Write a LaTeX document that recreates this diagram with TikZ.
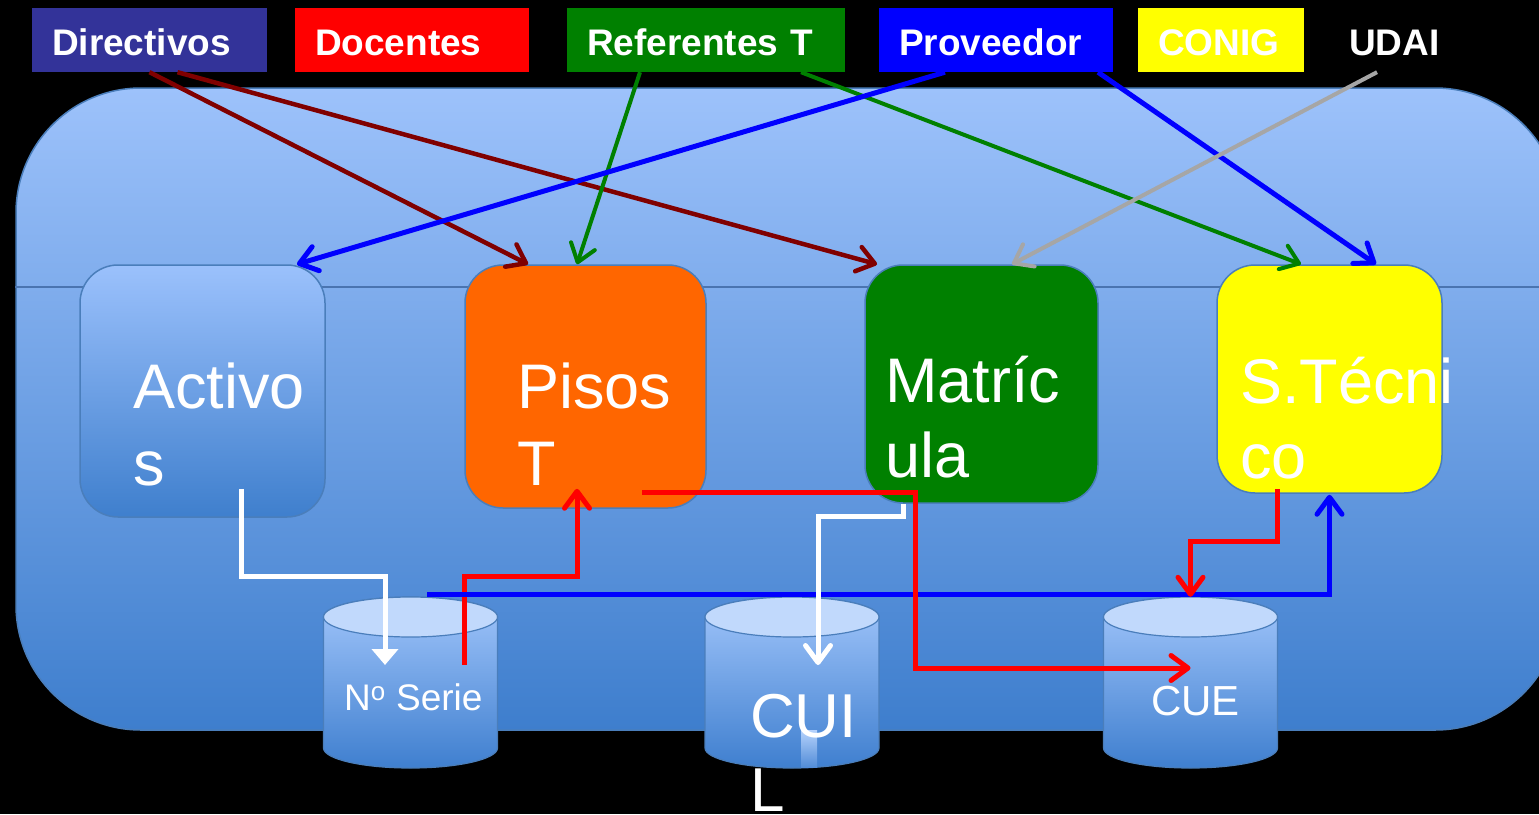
\documentclass[tikz,border=0pt]{standalone}
\usepackage{fontspec}
\setmainfont{Liberation Sans}
\usetikzlibrary{arrows.meta}
\definecolor{dirblue}{HTML}{333399}
\definecolor{docred}{HTML}{FF0000}
\definecolor{refgreen}{HTML}{008000}
\definecolor{provblue}{HTML}{0000FF}
\definecolor{conigyellow}{HTML}{FFFF00}
\definecolor{pisorange}{HTML}{FF6600}
\definecolor{edgeblue}{HTML}{4A7EBB}
\definecolor{linedark}{HTML}{4A74B0}
\definecolor{paneltop}{HTML}{9DC2FB}
\definecolor{panelmid}{HTML}{77A4E7}
\definecolor{panelbot}{HTML}{3E7ECD}
\definecolor{actop}{HTML}{9BC1FC}
\definecolor{acbot}{HTML}{3F7FCD}
\definecolor{cyltop}{HTML}{A2C6FB}
\definecolor{cylbot}{HTML}{3F7FCF}
\definecolor{cylcap}{HTML}{C1D9FC}
\definecolor{darkred}{HTML}{800000}
\definecolor{udaigray}{HTML}{A6A6A6}
\tikzset{dbcyl/.pic={
  \shade[top color=cyltop, bottom color=cylbot, draw=edgeblue, line width=1.2pt]
    (-87,0) -- (-87,131) arc[start angle=180, end angle=0, x radius=87, y radius=20]
    -- (87,0) arc[start angle=0, end angle=-180, x radius=87, y radius=20] -- cycle;
  \filldraw[fill=cylcap, draw=edgeblue, line width=1.2pt] (0,0) ellipse[x radius=87, y radius=20];
}}
\begin{document}
\begin{tikzpicture}[x=1pt,y=-1pt,
  toplabel/.style={rectangle, inner xsep=20pt, inner ysep=0pt, minimum height=64pt,
    text height=30pt, text depth=0pt, align=left, text=white,
    font=\bfseries\fontsize{37}{44}\selectfont},
  box/.style={rectangle, rounded corners=38pt, draw=edgeblue, line width=1.5pt, inner sep=0pt},
  boxtext/.style={anchor=base west, inner sep=0pt, text=white, font=\fontsize{63}{75}\selectfont},
  cylnode/.style={rectangle, inner sep=0pt, minimum width=174pt, minimum height=171pt},
  cyltext/.style={anchor=base west, inner sep=0pt, text=white},
  barb/.style={-{Straight Barb[length=17pt,width=25pt,round]}},
  link/.style={barb, line width=4.5pt},
  wire/.style={line width=5pt, line join=miter},
]
\useasboundingbox (0,0) rectangle (1539,814);
\fill[black] (0,0) rectangle (1539,814);

% container
\node[rectangle, rounded corners=125pt, draw=edgeblue, line width=1.5pt,
  top color=paneltop, middle color=panelmid, bottom color=panelbot,
  minimum width=1544pt, minimum height=642pt] (panel) at (788,409) {};
\coordinate (lineY) at (0,287);
\draw[linedark, line width=1.3pt] (panel.west |- lineY) -- (panel.east |- lineY);

% top labels
\node[toplabel, fill=dirblue, text width=195pt] (dir) at (149.5,40) {Directivos};
\node[toplabel, fill=docred, text width=194pt] (doc) at (412,40) {Docentes};
\node[toplabel, fill=refgreen, text width=238pt] (ref) at (706,40) {Referentes T};
\node[toplabel, fill=provblue, text width=194pt] (prov) at (996,40) {Proveedor};
\node[toplabel, fill=conigyellow, text width=126pt] (conig) at (1221,40) {CONIG};
\node[toplabel, text width=89pt] (udai) at (1393.5,40) {UDAI};

% inner boxes
\node[box, top color=actop, bottom color=acbot, minimum width=245pt, minimum height=252pt] (activos) at (202.5,391) {};
\node[box, fill=pisorange, minimum width=241pt, minimum height=243pt] (pisos) at (585.5,386.5) {};
\node[box, fill=refgreen, minimum width=233pt, minimum height=238pt] (matr) at (981.5,384) {};
\node[box, fill=conigyellow, minimum width=225pt, minimum height=228pt] (stec) at (1329.5,379) {};

% cylinders
\pic at (410.5,617) {dbcyl};
\pic at (792,617) {dbcyl};
\pic at (1190.5,617) {dbcyl};
\node[cylnode] (serie) at (410.5,682.5) {};
\node[cylnode] (cui) at (792,682.5) {};
\node[cylnode] (cue) at (1190.5,682.5) {};
\shade[top color=cyltop!80!white, bottom color=cylbot!80!cyltop] (801,730) rectangle (817,767);

% box texts
\node[boxtext] (activos-a) at (133,408) {Activo};
\node[boxtext] (activos-b) at (133,485) {s};
\node[boxtext] (pisos-a) at (517,408) {Pisos};
\node[boxtext] (pisos-b) at (517,485) {T};
\node[boxtext] (matr-a) at (885,402) {Matríc};
\node[boxtext] (matr-b) at (885,477) {ula};
\node[boxtext] (stec-a) at (1240,403) {S.Técni};
\node[boxtext] (stec-b) at (1240,478) {co};

% cylinder texts
\node[cyltext, font=\fontsize{37}{44}\selectfont] (serie-t) at (344,710) {N\textsuperscript{o} Serie};
\node[cyltext, font=\fontsize{62}{75}\selectfont] (cui-a) at (750,737) {CUI};
\node[cyltext, font=\fontsize{62}{75}\selectfont] (cui-b) at (750,811) {L};
\node[cyltext, font=\fontsize{42}{50}\selectfont] (cue-t) at (1151,715) {CUE};

% top arrows
\draw[link, darkred] ([xshift=0pt]dir.south) -- ([xshift=-57.5pt]pisos.north);
\draw[link, darkred] ([xshift=28pt]dir.south) -- ([xshift=-104.5pt]matr.north);
\draw[link, refgreen, line width=4pt] ([xshift=-66pt]ref.south) -- ([xshift=-8.5pt]pisos.north);
\draw[link, refgreen, line width=4pt] ([xshift=95pt]ref.south) -- ([xshift=-28.5pt]stec.north);
\draw[link, provblue, line width=5pt] ([xshift=-51pt]prov.south) -- ([xshift=94.5pt]activos.north);
\draw[link, provblue, line width=5pt] ([xshift=102pt]prov.south) -- ([xshift=46.5pt]stec.north);
\draw[link, udaigray, line width=4pt] ([xshift=-16.5pt]udai.south) -- ([xshift=30.5pt]matr.north);

% lower connectors
\draw[wire, white, -{Triangle[length=16pt,width=26pt]}]
  ([xshift=38.5pt,yshift=29pt]activos.south) -- ++(0,88) -| ([xshift=-25.5pt,yshift=17.5pt]serie.center);
\draw[wire, docred, barb]
  ([xshift=53.5pt,yshift=17.5pt]serie.center) -- ++(0,-89) -| ([xshift=-8.5pt,yshift=20pt]pisos.south);
\draw[wire, provblue, barb]
  ([xshift=16.5pt,yshift=2pt]serie.north) -| ([yshift=-1pt]stec.south);
\draw[wire, docred, barb]
  ([xshift=56.5pt,yshift=16pt]pisos.south) -- ++(273,0) |- ([yshift=14.5pt]cue.center);
\draw[wire, white, barb]
  ([xshift=-78.5pt]matr.south) -- ++(0,13) -| ([xshift=26pt,yshift=17.5pt]cui.center);
\draw[wire, docred, barb]
  ([xshift=-52.5pt,yshift=5pt]stec.south) -- ++(0,53) -| (cue.north);
\end{tikzpicture}
\end{document}
